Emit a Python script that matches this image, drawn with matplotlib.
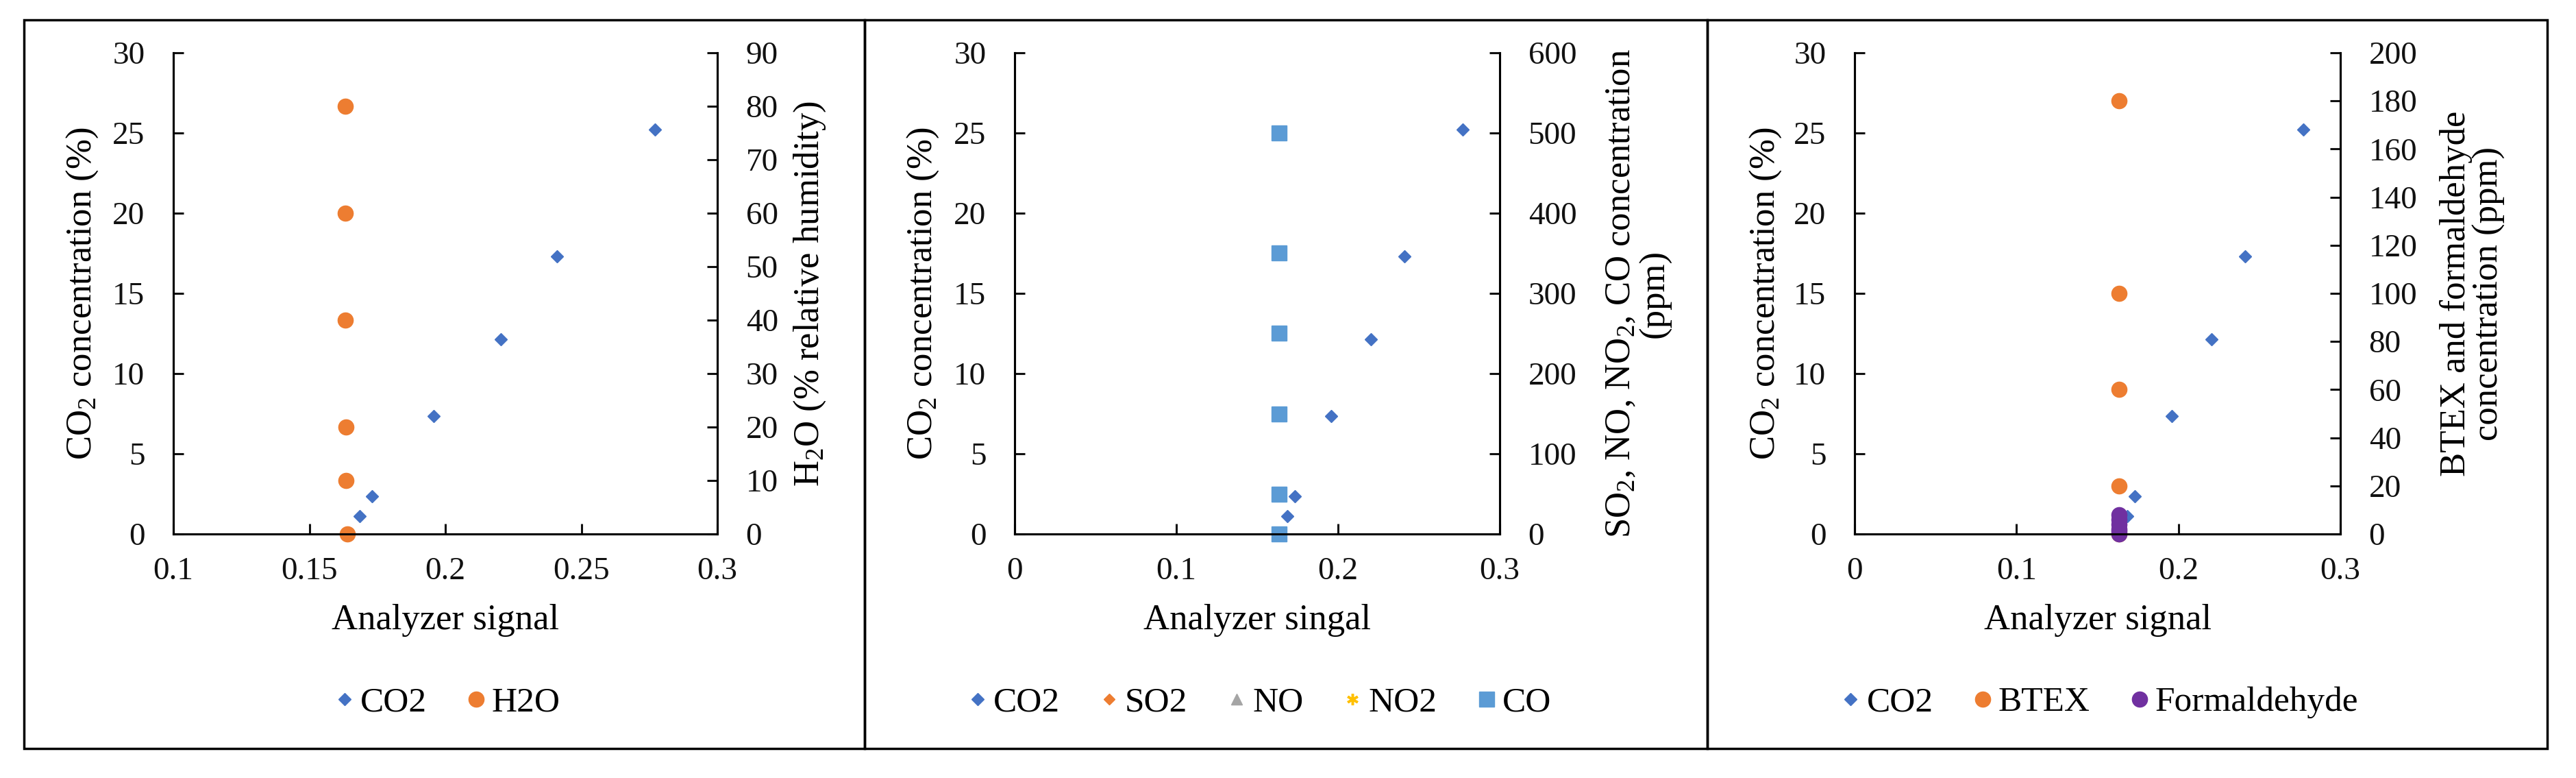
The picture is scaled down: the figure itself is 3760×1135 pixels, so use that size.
import numpy as np
import matplotlib
matplotlib.use('Agg')
import matplotlib.pyplot as plt
from matplotlib.patches import Rectangle
from matplotlib.ticker import FuncFormatter

plt.rcParams['font.family'] = ['Liberation Serif', 'DejaVu Serif']
plt.rcParams['mathtext.fontset'] = 'custom'
plt.rcParams['mathtext.rm'] = 'Liberation Serif'
plt.rcParams['mathtext.it'] = 'Liberation Serif:italic'

### Daten ###
co2_signal = [0.1685, 0.1731, 0.1957, 0.2205, 0.2410, 0.2770]
co2_conc = [1.1, 2.35, 7.35, 12.15, 17.3, 25.2]

h2o_signal = [0.1632, 0.1632, 0.1632, 0.1635, 0.1635, 0.1640]
h2o_conc = [80, 60, 40, 20, 10, 0]

gas_signal = [0.1634, 0.1634, 0.1634, 0.1634, 0.1634, 0.1634]
co_conc = [500, 350, 250, 150, 50, 0]
so2_conc = [500, 350, 250, 150, 50, 0]
no_conc = [500, 350, 250, 150, 50, 0]
no2_conc = [500, 350, 250, 150, 50, 0]

btex_signal = [0.1633, 0.1633, 0.1633, 0.1633, 0.1633]
btex_conc = [180, 100, 60, 20, 0]
form_signal = [0.1633, 0.1633, 0.1633, 0.1633, 0.1633, 0.1633]
form_conc = [0, 1, 2, 4, 6, 8]

blau = '#4472C4'
orange = '#ED7D31'
grau = '#A5A5A5'
gelb = '#FFC000'
hellblau = '#5B9BD5'
lila = '#7030A0'

W, H = 3760, 1135
fig = plt.figure(figsize=(W / 100, H / 100), dpi=100)

ax_top, ax_bot = 77, 779
panels = [(35, 1262, 253, 1047), (1262, 2492, 1481, 2189), (2492, 3718, 2707, 3416)]

for (bl, br, al, ar) in panels:
    fig.patches.append(Rectangle((bl / W, 1 - 1092 / H), (br - bl) / W, (1092 - 29) / H,
                                 transform=fig.transFigure, fill=False, edgecolor='black', lw=2.5))

fs_tick = 34
fs_lab = 38
fs_leg = 37
fmt = FuncFormatter(lambda v, _: f'{v:g}')


def make_axes(i, xmin, xstep, rmax, rstep):
    bl, br, al, ar = panels[i]
    ax = fig.add_axes([al / W, 1 - ax_bot / H, (ar - al) / W, (ax_bot - ax_top) / H])
    ax2 = ax.twinx()
    for a in (ax, ax2):
        a.spines['top'].set_visible(False)
        for s in ('left', 'right', 'bottom'):
            a.spines[s].set_linewidth(2.2)
        a.tick_params(direction='in', length=11, width=2.2, labelsize=fs_tick, colors='#111111')
    ax.tick_params(axis='y', pad=30)
    ax.tick_params(axis='x', pad=24)
    ax2.tick_params(axis='y', pad=30)
    ax.set_xlim(xmin, 0.3)
    ax.set_xticks(np.arange(xmin, 0.3 + 1e-9, xstep))
    ax.xaxis.set_major_formatter(fmt)
    ax.set_ylim(0, 30)
    ax.set_yticks(np.arange(0, 31, 5))
    ax2.set_ylim(0, rmax)
    ax2.set_yticks(np.arange(0, rmax + 1, rstep))
    ax.set_ylabel(r'CO$_2$ concentration (%)', fontsize=fs_lab, va='center')
    ax.yaxis.set_label_coords(-(al - (120 + bl - 35)) / (ar - al), 0.5)
    return ax, ax2


def finish(ax, ax2, xlabel, ylabel_r, r_off, ncol):
    ax.set_xlabel(xlabel, fontsize=fs_lab, va='center')
    ax.xaxis.set_label_coords(0.5, -126 / (ax_bot - ax_top))
    ax2.set_ylabel(ylabel_r, fontsize=fs_lab, va='center', ha='center', linespacing=1.0)
    ax2.yaxis.set_label_coords(1 + r_off / ax.bbox.width, 0.5)
    h1, l1 = ax.get_legend_handles_labels()
    h2, l2 = ax2.get_legend_handles_labels()
    ax.legend(h1 + h2, l1 + l2, loc='center', bbox_to_anchor=(0.5, -(1025 - ax_bot) / (ax_bot - ax_top)),
              ncol=ncol, frameon=False, fontsize=fs_leg, handletextpad=0.05, columnspacing=1.0,
              handlelength=0.8, borderaxespad=0)


### Panel 1: H2O ###
ax, ax2 = make_axes(0, 0.1, 0.05, 90, 10)
ax.plot(co2_signal, co2_conc, 'D', color=blau, ms=9, label='CO2', clip_on=False)
ax2.plot(h2o_signal, h2o_conc, 'o', color=orange, ms=16, label='H2O', clip_on=False)
finish(ax, ax2, 'Analyzer signal', r'H$_2$O (% relative humidity)', 135, 2)

### Panel 2: SO2, NO, NO2, CO ###
ax, ax2 = make_axes(1, 0.0, 0.1, 600, 100)
ax.plot(co2_signal, co2_conc, 'D', color=blau, ms=9, label='CO2', clip_on=False)
ax2.plot(gas_signal, so2_conc, 'D', color=orange, ms=8, label='SO2', clip_on=False)
ax2.plot(gas_signal, no_conc, '^', color=grau, ms=11, label='NO', clip_on=False)
ax2.plot(gas_signal, no2_conc, marker=(6, 2, 0), ls='none', color=gelb, ms=12, mew=2.5, label='NO2', clip_on=False)
ax2.plot(gas_signal, co_conc, 's', color=hellblau, ms=16, label='CO', clip_on=False)
finish(ax, ax2, 'Analyzer singal', 'SO$_2$, NO, NO$_2$, CO concentration\n(ppm)', 202, 5)

### Panel 3: BTEX, Formaldehyd ###
ax, ax2 = make_axes(2, 0.0, 0.1, 200, 20)
ax.plot(co2_signal, co2_conc, 'D', color=blau, ms=9, label='CO2', clip_on=False)
ax2.plot(btex_signal, btex_conc, 'o', color=orange, ms=16, label='BTEX', clip_on=False)
ax2.plot(form_signal, form_conc, 'o', color=lila, ms=16, label='Formaldehyde', clip_on=False)
finish(ax, ax2, 'Analyzer signal', 'BTEX and formaldehyde\nconcentration (ppm)', 193, 3)

plt.savefig('out.png', dpi=100)
